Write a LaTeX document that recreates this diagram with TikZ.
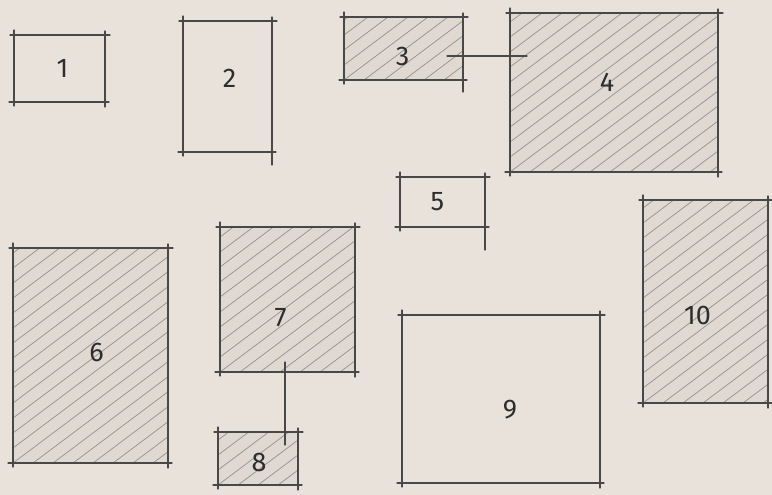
\documentclass[tikz,border=0pt]{standalone}
\usepackage{fontspec}
\setsansfont{Fira Sans}
\definecolor{paper}{RGB}{232,226,218}
\definecolor{pen}{RGB}{72,72,72}
\definecolor{hatch}{RGB}{150,145,140}
\definecolor{graytone}{RGB}{223,217,210}
\definecolor{digit}{RGB}{45,45,45}
% #1 name, #2 x1, #3 y1, #4 x2, #5 y2, #6 label, #7 fill colour, #8 dx, #9 dy
\newcommand\skbox[9]{%
  \node[boxnode, fill=#7, minimum width={(#4-#2)*1pt}, minimum height={(#5-#3)*1pt},
        label={[digitlabel, shift={(#8pt,#9pt)}]center:#6}]
        (#1) at ({(#2+#4)/2},{(#3+#5)/2}) {};
  \draw[pencil] ([xshift=-4pt]#1.north west) -- ([xshift=5pt]#1.north east);
  \draw[pencil] ([xshift=-5pt]#1.south west) -- ([xshift=4pt]#1.south east);
  \draw[pencil] ([yshift=5pt]#1.north west) -- ([yshift=-4pt]#1.south west);
  \draw[pencil] ([yshift=4pt]#1.north east) -- ([yshift=-5pt]#1.south east);
}
\newcommand\skhatch[4]{%
  \begin{scope}
    \clip (#1,#2) rectangle (#3,#4);
    \foreach \k in {0,20,...,580} \draw[hatchline] ({#1-300+\k},#4) -- ++(300,-225);
  \end{scope}
}
\begin{document}
\begin{tikzpicture}[x=1pt,y=-1pt,
  pencil/.style={draw=pen, line width=1.3pt, line cap=round},
  boxnode/.style={inner sep=0pt, outer sep=0pt, draw=none},
  digitlabel/.style={font=\sffamily\fontsize{27}{27}\selectfont, text=digit, inner sep=0pt},
  hatchline/.style={draw=hatch, line width=0.7pt}]
\fill[paper] (0,0) rectangle (772,495);
\useasboundingbox (0,0) rectangle (772,495);

% hatched shading drawn first
\fill[graytone] (344,17) rectangle (463,80);
\fill[graytone] (510,13) rectangle (718,172);
\fill[graytone] (13,248) rectangle (168,463);
\fill[graytone] (220,227) rectangle (355,372);
\fill[graytone] (218,432) rectangle (298,485);
\fill[graytone] (643,200) rectangle (768,403);
\skhatch{344}{17}{463}{80}
\skhatch{510}{13}{718}{172}
\skhatch{13}{248}{168}{463}
\skhatch{220}{227}{355}{372}
\skhatch{218}{432}{298}{485}
\skhatch{643}{200}{768}{403}

\skbox{n1}{14}{35}{105}{102}{1}{none}{3}{0}
\skbox{n2}{183}{21}{272}{152}{2}{none}{2}{8}
\skbox{n3}{344}{17}{463}{80}{3}{none}{-1}{-8}
\skbox{n4}{510}{13}{718}{172}{4}{none}{-7}{10}
\skbox{n5}{400}{177}{485}{227}{5}{none}{-5}{0}
\skbox{n6}{13}{248}{168}{463}{6}{none}{6}{3}
\skbox{n7}{220}{227}{355}{372}{7}{none}{-7}{-18}
\skbox{n8}{218}{432}{298}{485}{8}{none}{1}{-4}
\skbox{n9}{402}{315}{600}{483}{9}{none}{9}{-11}
\skbox{n10}{643}{200}{768}{403}{10}{none}{-8}{-14}

% extra long strokes
\draw[pencil] ([yshift=-12pt]n3.south east) -- (n3.south east);
\draw[pencil] ([yshift=-23pt]n5.south east) -- (n5.south east);
\draw[pencil] ([yshift=-13pt]n2.south east) -- (n2.south east);

% connectors
\coordinate (c34) at ([xshift=-16pt,yshift=-7.5pt]n3.east);
\path (c34 -| n4.west) coordinate (t34);
\draw[pencil] (c34) -- ([xshift=17pt]t34);
\coordinate (c78) at ([xshift=-2.5pt,yshift=10pt]n7.south);
\path (c78 |- n8.north) coordinate (t78);
\draw[pencil] (c78) -- ([yshift=-13pt]t78);
\end{tikzpicture}
\end{document}
